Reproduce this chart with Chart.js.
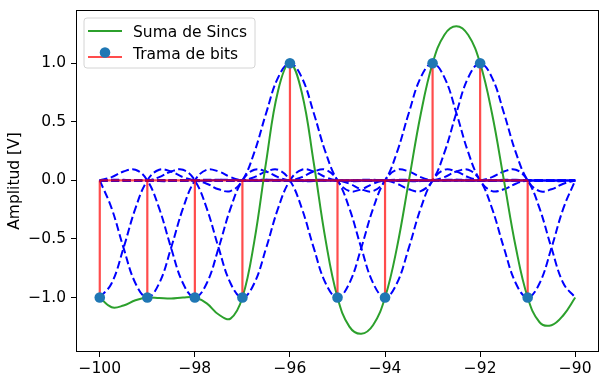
<!DOCTYPE html>
<html><head><meta charset="utf-8">
<script src="https://cdn.jsdelivr.net/npm/chart.js@4/dist/chart.umd.min.js"></script>
<style>html,body{margin:0;padding:0;background:#fff}#wrap{width:607px;height:382px}</style>
</head><body><div id="wrap"><canvas id="c" width="607" height="382"></canvas></div>
<script>
// ---- data ----
const bitTimes  = [-100, -99, -98, -97, -96, -95, -94, -93, -92, -91];
const bitValues = [-1, -1, -1, -1, 1, -1, -1, 1, 1, -1];
// centres and amplitudes of the dashed pulses (one extra at -90)
const pulseCenters = [-100, -99, -98, -97, -96, -95, -94, -93, -92, -91, -90];
const pulseAmps    = [-1, -1, -1, -1, 1, -1, -1, 1, 1, -1, -1];
// shape of one dashed pulse, read at offsets 0, 0.25, 0.5 ... 3.75 from its centre
const pulseShape = [1, 0.878, 0.576, 0.239, 0, -0.091, -0.076, -0.028, 0, 0.002, -0.005, -0.006, 0, 0.004, 0.003, 0.0005];
const pulseStep = 0.25;
// time samples of the curves
const timeAxis = [-100, -99.75, -99.5, -99.25, -99, -98.75, -98.5, -98.25, -98, -97.75, -97.5, -97.25,
  -97, -96.75, -96.5, -96.25, -96, -95.75, -95.5, -95.25, -95, -94.75, -94.5, -94.25, -94, -93.75,
  -93.5, -93.25, -93, -92.75, -92.5, -92.25, -92, -91.75, -91.5, -91.25, -91, -90.75, -90.5, -90.25, -90];
// green "Suma de Sincs" curve
const sumValues = [-1, -1.083, -1.068, -1.023, -1, -1.004, -1.009, -1.000, -1, -1.050, -1.145, -1.180,
  -1, -0.520, 0.161, 0.766, 1, 0.748, 0.151, -0.510, -1, -1.248, -1.309, -1.234, -1, -0.574,
  -0.006, 0.565, 1, 1.244, 1.316, 1.241, 1, 0.571, 0.002, -0.571, -1, -1.211, -1.236, -1.151, -1];
const xTicks = [-100, -98, -96, -94, -92, -90];
const yTicks = [-1, -0.5, 0, 0.5, 1];

// ---- build datasets ----
const FONT = 'DejaVu Sans';
const FS = 15.5;
const minus = s => String(s).replace('-', '\u2212');
const datasets = [];

pulseCenters.forEach((c, i) => {
  datasets.push({
    data: timeAxis.map(t => {
      const idx = Math.round(Math.abs(t - c) / pulseStep);
      return {x: t, y: pulseAmps[i] * (idx < pulseShape.length ? pulseShape[idx] : 0)};
    }),
    borderColor: '#0000ff', borderWidth: 2, borderDash: [8, 3.5],
    pointRadius: 0, tension: 0.4, fill: false, order: 10
  });
});
datasets.push({
  data: timeAxis.map((t, i) => ({x: t, y: sumValues[i]})),
  borderColor: '#2ca02c', borderWidth: 2, pointRadius: 0, tension: 0.4, fill: false, order: 5
});
const stemData = [];
bitTimes.forEach((t, i) => { stemData.push({x: t, y: 0}, {x: t, y: bitValues[i]}, {x: t, y: null}); });
datasets.push({
  data: stemData, borderColor: 'rgba(255,0,0,0.7)', borderWidth: 2.2, pointRadius: 0,
  spanGaps: false, tension: 0, fill: false, order: 3
});
datasets.push({
  data: [{x: bitTimes[0], y: 0}, {x: bitTimes[bitTimes.length - 1], y: 0}],
  borderColor: 'rgba(255,0,0,0.7)', borderWidth: 2.2, pointRadius: 0, tension: 0, fill: false, order: 2
});
datasets.push({
  data: bitTimes.map((t, i) => ({x: t, y: bitValues[i]})),
  showLine: false, pointRadius: 5.3, pointHoverRadius: 5.3, pointBackgroundColor: '#1f77b4',
  pointBorderWidth: 0, borderColor: '#1f77b4', order: 0
});

const framePlugin = {
  id: 'frame',
  afterDraw(chart) {
    const {ctx, chartArea: a} = chart;
    ctx.save();
    ctx.strokeStyle = '#000'; ctx.lineWidth = 1;
    ctx.strokeRect(a.left + 0.5, a.top + 0.5, a.right - a.left - 1, a.bottom - a.top - 1);
    // legend
    const bx = 84, by = 18, bw = 171, bh = 50, r = 3;
    ctx.beginPath();
    ctx.moveTo(bx + r, by); ctx.lineTo(bx + bw - r, by); ctx.arcTo(bx + bw, by, bx + bw, by + r, r);
    ctx.lineTo(bx + bw, by + bh - r); ctx.arcTo(bx + bw, by + bh, bx + bw - r, by + bh, r);
    ctx.lineTo(bx + r, by + bh); ctx.arcTo(bx, by + bh, bx, by + bh - r, r);
    ctx.lineTo(bx, by + r); ctx.arcTo(bx, by, bx + r, by, r); ctx.closePath();
    ctx.fillStyle = 'rgba(255,255,255,0.8)'; ctx.fill();
    ctx.strokeStyle = '#d4d4d4'; ctx.lineWidth = 1; ctx.stroke();
    ctx.lineWidth = 2.2;
    ctx.strokeStyle = '#2ca02c';
    ctx.beginPath(); ctx.moveTo(88, 31); ctx.lineTo(122, 31); ctx.stroke();
    ctx.strokeStyle = 'rgba(255,0,0,0.7)';
    ctx.beginPath(); ctx.moveTo(88, 57); ctx.lineTo(122, 57); ctx.stroke();
    ctx.fillStyle = '#1f77b4';
    ctx.beginPath(); ctx.arc(105, 52.5, 5.3, 0, Math.PI * 2); ctx.fill();
    ctx.fillStyle = '#000'; ctx.font = FS + 'px "' + FONT + '"';
    ctx.textBaseline = 'middle'; ctx.textAlign = 'left';
    ctx.fillText('Suma de Sincs', 133, 32.5);
    ctx.fillText('Trama de bits', 133, 55);
    ctx.restore();
  }
};

new Chart(document.getElementById('c'), {
  type: 'line',
  data: {datasets},
  options: {
    responsive: false, animation: false, devicePixelRatio: 1,
    layout: {padding: {left: 0, right: 8, top: 10, bottom: 0}},
    plugins: {legend: {display: false}, tooltip: {enabled: false}},
    scales: {
      x: {
        type: 'linear', min: -100.5, max: -89.5,
        afterBuildTicks: s => { s.ticks = xTicks.map(v => ({value: v})); },
        afterFit: s => { s.height = 30; s.paddingLeft = 0; s.paddingRight = 0; },
        ticks: {callback: v => minus(v), font: {family: FONT, size: FS}, color: '#000',
                padding: 3, maxRotation: 0, autoSkip: false},
        grid: {display: true, drawOnChartArea: false, drawTicks: true, tickLength: 5, tickColor: '#000', tickWidth: 1},
        border: {display: false}
      },
      y: {
        type: 'linear', min: -1.465, max: 1.455,
        afterBuildTicks: s => { s.ticks = yTicks.map(v => ({value: v})); },
        afterFit: s => { s.width = 76; s.paddingTop = 0; s.paddingBottom = 0; },
        ticks: {callback: v => minus(v.toFixed(1)), font: {family: FONT, size: FS}, color: '#000', padding: 5},
        grid: {display: true, drawOnChartArea: false, drawTicks: true, tickLength: 5, tickColor: '#000', tickWidth: 1},
        border: {display: false},
        title: {display: true, text: 'Amplitud [V]', font: {family: FONT, size: FS}, color: '#000',
                padding: {top: 6, bottom: 0}}
      }
    }
  },
  plugins: [framePlugin]
});
</script></body></html>
